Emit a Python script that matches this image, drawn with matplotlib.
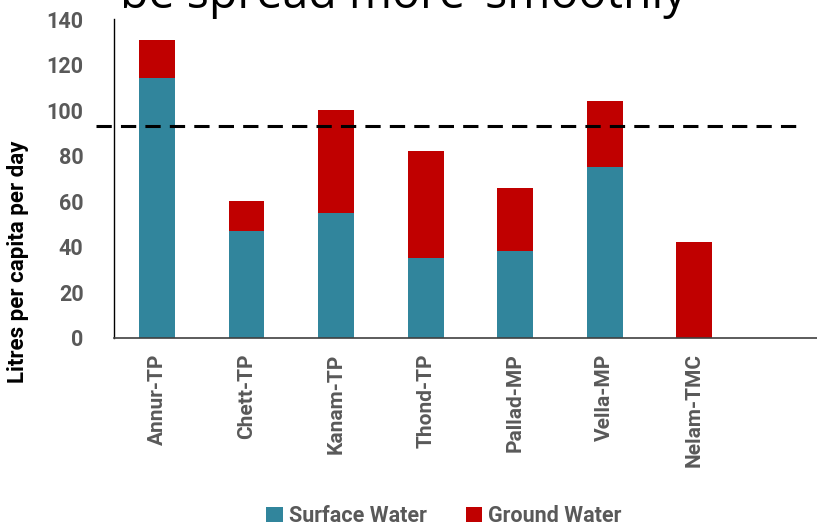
import matplotlib
matplotlib.use("Agg")
import matplotlib.pyplot as plt
import matplotlib.transforms as mtransforms
from matplotlib.patches import Patch
import numpy as np

categories = ["Annur-TP", "Chett-TP", "Kanam-TP", "Thond-TP", "Pallad-MP", "Vella-MP", "Nelam-TMC"]
surface = [114, 47, 55, 35, 38, 75, 0]
total = [131, 60, 100, 82, 66, 104, 42]
ground = [t - s for t, s in zip(total, surface)]
threshold = 93
yticks = [0, 20, 40, 60, 80, 100, 120, 140]
title_text = "be spread more \u2018smoothly"
ylabel = "Litres per capita per day"
series_names = ["Surface Water", "Ground Water"]

TEAL = "#31859C"
RED = "#C00000"
GRAY = "#595959"
FONT = "Roboto"

W, H = 817, 527
fig = plt.figure(figsize=(W / 100, H / 100), dpi=100)
ax = fig.add_axes([114 / W, (H - 338) / H, 1 - 114 / W, 319 / H])

x = np.arange(len(categories))
ax.bar(x, surface, width=0.4, color=TEAL, edgecolor="none", zorder=2)
ax.bar(x, ground, width=0.4, bottom=surface, color=RED, edgecolor="none", zorder=2)

ax.set_xlim(-0.48, 7.37)
ax.set_ylim(0, 140)
ax.set_yticks(yticks)
ax.set_yticklabels([str(v) for v in yticks], fontsize=15.5, fontweight="bold", color=GRAY, family=FONT)
ax.set_xticks(x)
ax.set_xticklabels(categories, rotation=90, fontsize=15, fontweight="bold", color=GRAY, family=FONT)
ax.tick_params(axis="both", length=0)
ax.tick_params(axis="x", pad=11)
ax.tick_params(axis="y", pad=22)

for s in ["top", "right"]:
    ax.spines[s].set_visible(False)
ax.spines["left"].set_color("black")
ax.spines["left"].set_linewidth(1.0)
ax.spines["bottom"].set_color("#404040")
ax.spines["bottom"].set_linewidth(1.2)

trans = mtransforms.blended_transform_factory(ax.transAxes, ax.transData)
ax.plot([-0.0256, 0.9716], [threshold, threshold], transform=trans, color="black",
        linestyle=(0, (5, 3)), linewidth=2.2, clip_on=False, zorder=3)

fig.text(18 / W, 1 - 262 / H, ylabel, rotation=90, ha="center", va="center",
         fontsize=16, fontweight="bold", color="black", family=FONT)

fig.text(120 / W, 1 - 8 / H, title_text, ha="left", va="baseline",
         fontsize=33.5, color="black", family="Open Sans")

handles = [Patch(facecolor=TEAL, edgecolor="none"), Patch(facecolor=RED, edgecolor="none")]
leg = fig.legend(handles, series_names, loc="center", bbox_to_anchor=(444 / W, 1 - 516 / H),
                 ncol=2, frameon=False, handlelength=0.75, handleheight=0.75, handletextpad=0.3,
                 columnspacing=1.8, prop={"family": FONT, "weight": "bold", "size": 15.5})
for t in leg.get_texts():
    t.set_color(GRAY)

fig.savefig("out.png", dpi=100)
